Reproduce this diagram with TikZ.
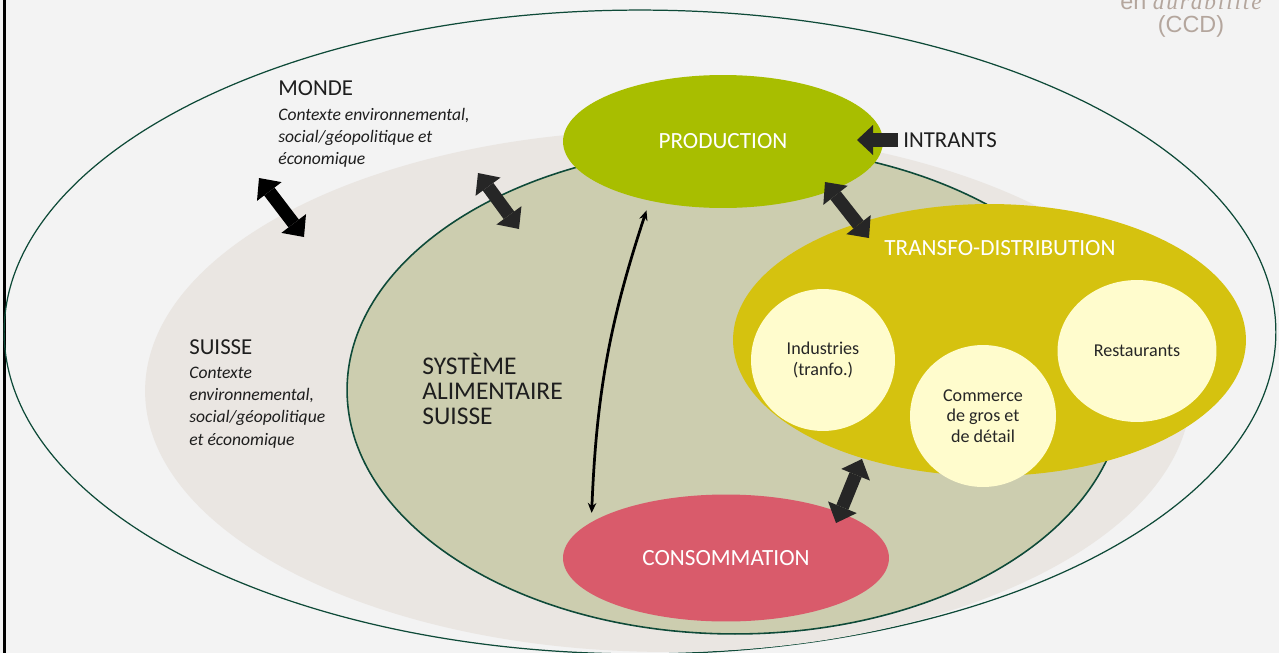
\documentclass[tikz,border=0pt]{standalone}
\usepackage{fontspec}
\setmainfont{Carlito}
\newfontfamily\ccdfont{Liberation Sans}
\newfontfamily\ccdserif[LetterSpace=8]{Liberation Serif}
\usetikzlibrary{positioning,shapes.geometric,arrows.meta}
\definecolor{bgGray}{HTML}{F3F3F3}
\definecolor{lineGreen}{HTML}{0E4A38}
\definecolor{suisseBeige}{HTML}{EAE6E2}
\definecolor{sysGreen}{HTML}{CCCDAF}
\definecolor{prodGreen}{HTML}{A8BE00}
\definecolor{transfoYellow}{HTML}{D5C20F}
\definecolor{circleCream}{HTML}{FFFCCD}
\definecolor{consoRed}{HTML}{D95B6B}
\definecolor{arrowDark}{HTML}{262626}
\definecolor{txtDark}{HTML}{1E1E1E}
\definecolor{ccdGray}{HTML}{B4A69D}
\tikzstyle{zone}=[ellipse,inner sep=0pt,align=center]
\tikzstyle{wlabel}=[text=white,inner sep=0pt,font=\fontsize{13.2}{15}\selectfont]
\tikzstyle{ctx}=[text=txtDark,inner sep=0pt,align=left,font=\fontsize{10}{12.7}\selectfont\itshape]
\tikzset{fat/.style={line width=0.26cm,
  {Triangle[length=0.34cm,width=0.62cm,line width=0pt]}-{Triangle[length=0.34cm,width=0.62cm,line width=0pt]}}}
\newcommand{\newZone}[4]{\node[zone,#3](#1) at (#4){#2};}
\newcommand{\newBigArrow}[3]{\draw[fat,#3] (#1) -- (#2);}

\begin{document}
\begin{tikzpicture}[x=0.02cm,y=-0.02cm,
  >={Stealth[length=0.2cm,width=0.17cm]},
  font=\fontsize{13}{15}\selectfont
  ]
  \fill[bgGray] (0,0) rectangle (1279,653);
  \useasboundingbox (0,0) rectangle (1279,653);
  \draw[black,line width=0.06cm] (4.5,0) -- (4.5,653);
  % zones
  \newZone{monde}{}{draw=lineGreen,line width=0.7pt,minimum width=25.44cm,minimum height=12.88cm}{640,332}
  \newZone{suisse}{}{fill=suisseBeige,minimum width=20.92cm,minimum height=10.44cm}{668,391}
  \newZone{sys}{}{fill=sysGreen,draw=lineGreen,line width=0.9pt,minimum width=15.52cm,minimum height=9.76cm}{735,390}
  \newZone{prod}{PRODUCTION}{fill=prodGreen,wlabel,minimum width=6.4cm,minimum height=2.66cm}{723,141.5}
  \newZone{transfo}{}{fill=transfoYellow,minimum width=10.26cm,minimum height=5.44cm}{989.5,340}
  \newZone{conso}{CONSOMMATION}{fill=consoRed,wlabel,minimum width=6.52cm,minimum height=2.54cm}{726,558}
  % transfo-distribution
  \node[wlabel] (transfoLbl) at (1000,248) {TRANSFO-DISTRIBUTION};
  \tikzset{cream/.style={zone,fill=circleCream,text=arrowDark,minimum height=2.84cm,font=\fontsize{10.3}{11.7}\selectfont}}
  \newZone{indus}{Industries\\(tranfo.)}{cream,minimum width=2.88cm}{823,360}
  \newZone{comm}{Commerce\\de gros et\\de détail}{cream,minimum width=2.92cm}{983,416}
  \newZone{resto}{Restaurants}{cream,minimum width=3.18cm}{1137,351}
  % texts
  \node[anchor=base west,inner sep=0pt,text=txtDark] (mondeT) at (278,95) {MONDE};
  \node[ctx,below=0.24cm of mondeT.south west,anchor=north west] (mondeCtx)
    {Contexte environnemental,\\social/géopolitique et\\économique};
  \node[anchor=base west,inner sep=0pt,text=txtDark] (suisseT) at (189,354) {SUISSE};
  \node[ctx,below=0.24cm of suisseT.south west,anchor=north west] (suisseCtx)
    {Contexte\\environnemental,\\social/géopolitique\\et économique};
  \node[anchor=west,inner sep=0pt,align=left,text=txtDark,font=\fontsize{14.5}{14.2}\selectfont]
    (sysT) at (422,389) {SYSTÈME\\ALIMENTAIRE\\SUISSE};
  \node[anchor=west,inner sep=0pt,text=txtDark] (intr) at (903,140) {INTRANTS};
  \node[anchor=base,inner sep=0pt,text=ccdGray,font=\ccdfont\fontsize{13.3}{16}\selectfont]
    (ccd) at (1191,32) {(CCD)};
  \node[anchor=base,inner sep=0pt,text=ccdGray,font=\ccdfont\fontsize{13.3}{16}\selectfont]
    (ccdTop) at (1191,9) {en {\ccdserif\itshape durabilité}};
  % arrows
  \coordinate (intrTip) at (857,140);
  \draw[arrowDark,line width=0.28cm,-{Triangle[length=0.32cm,width=0.6cm,line width=0pt]},shorten <=0.1cm]
    (intr.west) -- (intrTip);
  \coordinate (mA) at (259,178); \coordinate (mB) at (304,237);
  \coordinate (sA) at (478,173); \coordinate (sB) at (519,229);
  \coordinate (pA) at (825,182); \coordinate (pB) at (869,238);
  \coordinate (tA) at (862,459); \coordinate (tB) at (836,523);
  \newBigArrow{mA}{mB}{black}
  \newBigArrow{sA}{sB}{arrowDark}
  \newBigArrow{pA}{pB}{arrowDark}
  \newBigArrow{tA}{tB}{arrowDark}
  \draw[<->,line width=0.055cm,shorten <=0.2cm,shorten >=0.18cm]
    (prod.219) to[bend right=8] (conso.165);
\end{tikzpicture}
\end{document}
